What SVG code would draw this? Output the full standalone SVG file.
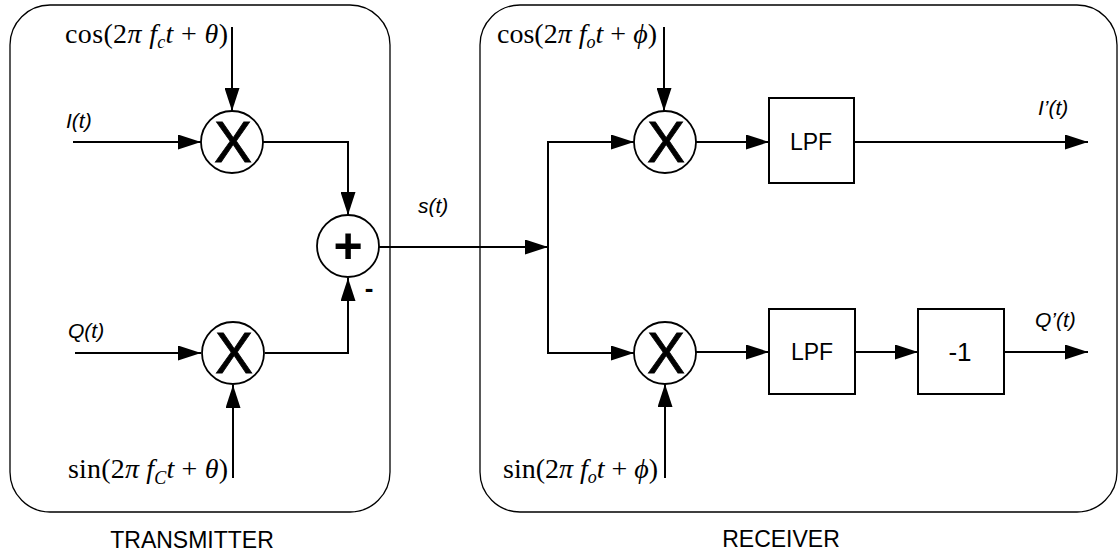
<svg xmlns="http://www.w3.org/2000/svg" width="1119" height="558" viewBox="0 0 1119 558">
<style>
.frame{fill:none;stroke:#000;stroke-width:1.3}
.blk{fill:#fff;stroke:#000;stroke-width:2}
.circ{fill:#fff;stroke:#000;stroke-width:1.8}
.wire{fill:none;stroke:#000;stroke-width:2}
.math{font-family:"Liberation Serif","Times New Roman",serif;font-size:28px;fill:#000}
.it{font-style:italic}
.sig{font-family:"Liberation Sans",Arial,sans-serif;font-style:italic;font-size:21px;fill:#000}
.lbl{font-family:"Liberation Sans",Arial,sans-serif;font-size:23px;fill:#000}
.op{font-family:"Liberation Sans",Arial,sans-serif;fill:#000;text-anchor:middle}
.x{font-size:57px;stroke:#000;stroke-width:0.8}
</style>
<defs>
<marker id="arr" viewBox="0 0 23 15" refX="23" refY="7.5" markerWidth="23" markerHeight="15" markerUnits="userSpaceOnUse" orient="auto">
<path d="M0,0 L23,7.5 L0,15 Z" fill="#000"/>
</marker>
</defs>
<g id="transmitter-frame"><rect class="frame" x="10" y="5" width="380" height="507" rx="40" ry="40"/></g>
<g id="receiver-frame"><rect class="frame" x="480" y="5" width="637" height="507" rx="40" ry="40"/></g>
<g id="connectors">
<line class="wire" x1="232" y1="27" x2="232" y2="111" marker-end="url(#arr)"/>
<line class="wire" x1="73" y1="142" x2="201" y2="142" marker-end="url(#arr)"/>
<polyline class="wire" points="263,142 348,142 348,215" marker-end="url(#arr)"/>
<line class="wire" x1="75" y1="353" x2="201" y2="353" marker-end="url(#arr)"/>
<line class="wire" x1="233" y1="478" x2="233" y2="385" marker-end="url(#arr)"/>
<polyline class="wire" points="265,353 348,353 348,278" marker-end="url(#arr)"/>
<line class="wire" x1="379" y1="247" x2="548" y2="247" marker-end="url(#arr)"/>
<line class="wire" x1="548" y1="141" x2="548" y2="354"/>
<line class="wire" x1="547" y1="142" x2="634" y2="142" marker-end="url(#arr)"/>
<line class="wire" x1="547" y1="353" x2="634" y2="353" marker-end="url(#arr)"/>
<line class="wire" x1="664" y1="27" x2="664" y2="111" marker-end="url(#arr)"/>
<line class="wire" x1="665" y1="478" x2="665" y2="384" marker-end="url(#arr)"/>
<line class="wire" x1="696" y1="142" x2="769" y2="142" marker-end="url(#arr)"/>
<line class="wire" x1="854" y1="142" x2="1088" y2="142" marker-end="url(#arr)"/>
<line class="wire" x1="696" y1="352" x2="769" y2="352" marker-end="url(#arr)"/>
<line class="wire" x1="855" y1="352" x2="918" y2="352" marker-end="url(#arr)"/>
<line class="wire" x1="1004" y1="352" x2="1088" y2="352" marker-end="url(#arr)"/>
</g>
<g id="tx-mixer-i"><circle class="circ" cx="232" cy="142" r="31"/><text class="op x" x="233" y="162">X</text></g>
<g id="tx-mixer-q"><circle class="circ" cx="233" cy="353" r="31"/><text class="op x" x="234" y="373">X</text></g>
<g id="tx-adder"><circle class="circ" cx="348" cy="246" r="31"/><text class="op" x="348" y="263" font-size="50" font-weight="bold">+</text><text class="op" x="369" y="297" font-size="26" font-weight="bold">-</text></g>
<g id="rx-mixer-i"><circle class="circ" cx="665" cy="142" r="31"/><text class="op x" x="666" y="162">X</text></g>
<g id="rx-mixer-q"><circle class="circ" cx="665" cy="353" r="31"/><text class="op x" x="666" y="373">X</text></g>
<g id="lpf-i"><rect class="blk" x="769" y="98" width="85" height="85"/><text class="op" x="811" y="150" font-size="23">LPF</text></g>
<g id="lpf-q"><rect class="blk" x="769" y="309" width="86" height="85"/><text class="op" x="812" y="360" font-size="23">LPF</text></g>
<g id="negate"><rect class="blk" x="918" y="309" width="86" height="85"/><text class="op" x="960" y="361" font-size="26">-1</text></g>
<g id="labels">
<text class="math" x="65" y="43" textLength="163" lengthAdjust="spacing">cos(2<tspan class="it">π f</tspan><tspan class="it" font-size="18" dy="5">c</tspan><tspan class="it" dy="-5">t</tspan> + <tspan class="it">θ</tspan>)</text>
<text class="math" x="68" y="478" textLength="160" lengthAdjust="spacing">sin(2<tspan class="it">π f</tspan><tspan class="it" font-size="18" dy="6">C</tspan><tspan class="it" dy="-6">t</tspan> + <tspan class="it">θ</tspan>)</text>
<text class="math" x="497" y="43" textLength="160" lengthAdjust="spacing">cos(2<tspan class="it">π f</tspan><tspan class="it" font-size="18" dy="5">o</tspan><tspan class="it" dy="-5">t</tspan> + <tspan class="it">ϕ</tspan>)</text>
<text class="math" x="503" y="478" textLength="155" lengthAdjust="spacing">sin(2<tspan class="it">π f</tspan><tspan class="it" font-size="18" dy="5">o</tspan><tspan class="it" dy="-5">t</tspan> + <tspan class="it">ϕ</tspan>)</text>
<text class="sig" x="66" y="128">I(t)</text>
<text class="sig" x="68" y="338">Q(t)</text>
<text class="sig" x="418" y="213">s(t)</text>
<text class="sig" x="1038" y="115">I’(t)</text>
<text class="sig" x="1035" y="327">Q’(t)</text>
<text class="lbl" x="192" y="548" text-anchor="middle">TRANSMITTER</text>
<text class="lbl" x="781" y="547" text-anchor="middle">RECEIVER</text>
</g>
</svg>
